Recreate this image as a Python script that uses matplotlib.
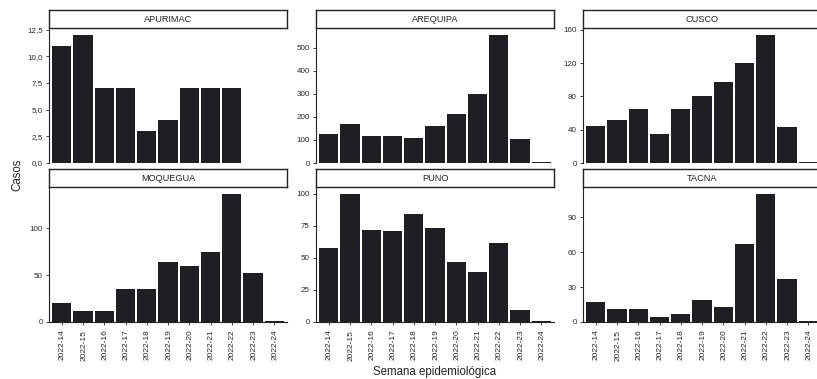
import matplotlib
matplotlib.use('Agg')
import matplotlib.pyplot as plt
import matplotlib.transforms as mtransforms
from matplotlib.ticker import MultipleLocator, FuncFormatter

plt.rcParams['font.family'] = ['Liberation Sans', 'DejaVu Sans']

# Epidemiological weeks (shared x axis)
weeks = ['2022-14', '2022-15', '2022-16', '2022-17', '2022-18', '2022-19',
         '2022-20', '2022-21', '2022-22', '2022-23', '2022-24']

# Cases per region and week
apurimac = [11, 12, 7, 7, 3, 4, 7, 7, 7]
arequipa = [125, 171, 116, 116, 109, 162, 214, 298, 555, 104, 3]
cusco = [45, 52, 65, 35, 65, 80, 97, 120, 154, 43, 1]
moquegua = [20, 12, 12, 35, 35, 64, 60, 75, 137, 52, 1]
puno = [58, 100, 72, 71, 84, 73, 47, 39, 62, 9, 1]
tacna = [17, 11, 11, 4, 7, 19, 13, 67, 110, 37, 1]

regions = ['APURIMAC', 'AREQUIPA', 'CUSCO', 'MOQUEGUA', 'PUNO', 'TACNA']
series = [apurimac, arequipa, cusco, moquegua, puno, tacna]
y_steps = [2.5, 100, 40, 50, 25, 30]

bar_color = '#1e1e24'
txt_color = '#2a2a2a'


def fmt_decimal(v, pos):
    # decimal comma, as in the Spanish original
    return f'{v:.1f}'.replace('.', ',')


def fmt_int(v, pos):
    return f'{v:.0f}'


fig = plt.figure(figsize=(8.17, 3.79), dpi=100)

# panel layout (figure fraction), right column runs off the edge like the scan
lefts = [0.060, 0.3868, 0.7136]
width = 0.2913
bottoms = [0.5699, 0.1504]
height = 0.3550
strip_h = 0.0475

for i, (name, vals, step) in enumerate(zip(regions, series, y_steps)):
    row, col = divmod(i, 3)
    ax = fig.add_axes([lefts[col], bottoms[row], width, height])
    x = list(range(len(vals)))
    ax.bar(x, vals, width=0.9, color=bar_color, linewidth=0)
    ax.set_xlim(-0.6, len(weeks) - 0.4)
    ax.set_ylim(0, max(vals) * 1.05)

    ax.yaxis.set_major_locator(MultipleLocator(step))
    ax.yaxis.set_major_formatter(FuncFormatter(fmt_decimal if step % 1 else fmt_int))
    ax.tick_params(axis='y', labelsize=5.8, length=2.5, width=0.6, pad=2,
                   colors='#222222', labelcolor=txt_color)

    for s in ['top', 'right']:
        ax.spines[s].set_visible(False)
    ax.spines['left'].set_linewidth(0.8)
    ax.spines['left'].set_color('#222222')

    if row == 1:
        ax.set_xticks(range(len(weeks)))
        ax.set_xticklabels(weeks, rotation=90, ha='left', va='top')
        ax.tick_params(axis='x', labelsize=6, length=2.5, width=0.6, pad=3,
                       colors='#222222', labelcolor=txt_color)
        offset = mtransforms.ScaledTranslation(-2 / 72, 0, fig.dpi_scale_trans)
        for lab in ax.get_xticklabels():
            lab.set_transform(lab.get_transform() + offset)
        ax.spines['bottom'].set_linewidth(0.8)
        ax.spines['bottom'].set_color('#222222')
    else:
        ax.set_xticks([])
        ax.spines['bottom'].set_visible(False)

    # strip with region name
    sax = fig.add_axes([lefts[col], bottoms[row] + height, width, strip_h])
    sax.set_xticks([])
    sax.set_yticks([])
    for s in sax.spines.values():
        s.set_linewidth(1.0)
        s.set_color('#222222')
    sax.text(0.5, 0.5, name, ha='center', va='center', fontsize=6.6, color='#222222',
             transform=sax.transAxes)

fig.text(0.532, 0.018, 'Semana epidemiológica', ha='center', va='center',
         fontsize=8.3, color='#222222')
fig.text(0.021, 0.538, 'Casos', ha='center', va='center', rotation=90,
         fontsize=8.3, color='#222222')

fig.savefig('out.png', dpi=100)
